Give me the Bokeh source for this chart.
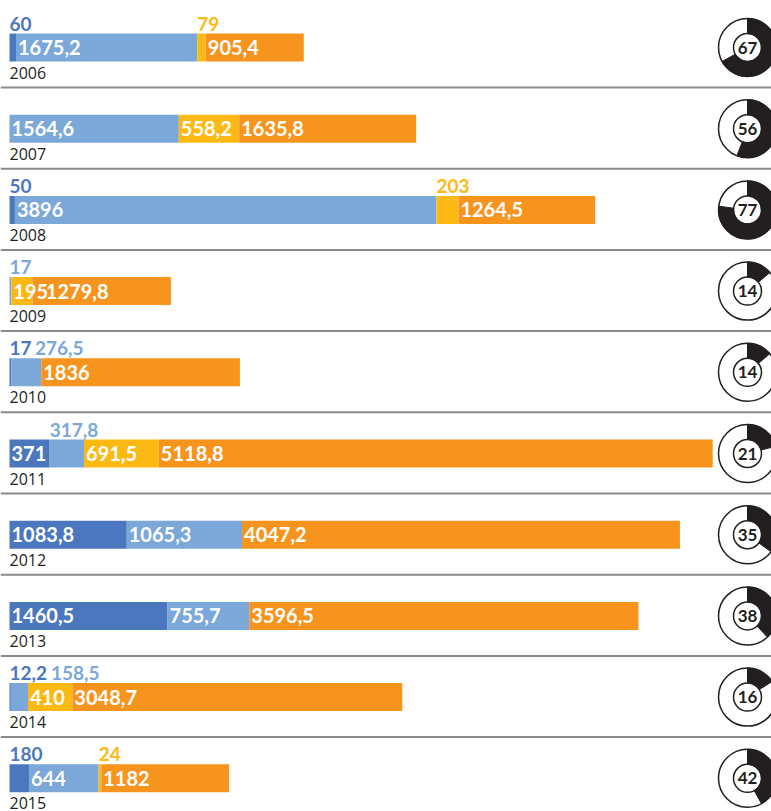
import math
from bokeh.plotting import figure
from bokeh.models import ColumnDataSource, Range1d, Span
from bokeh.core.properties import value
from bokeh.embed import file_html
from bokeh.resources import INLINE

# ---------------- data ----------------
years = [2006, 2007, 2008, 2009, 2010, 2011, 2012, 2013, 2014, 2015]
dark_blue = [60, 0, 50, 0, 17, 371, 1083.8, 1460.5, 12.2, 180]
light_blue = [1675.2, 1564.6, 3896, 17, 276.5, 317.8, 1065.3, 755.7, 158.5, 644]
yellow = [79, 558.2, 203, 195, 0, 691.5, 0, 0, 410, 24]
orange = [905.4, 1635.8, 1264.5, 1279.8, 1836, 5118.8, 4047.2, 3596.5, 3048.7, 1182]
share = [67, 56, 77, 14, 14, 21, 35, 38, 16, 42]

# label placement (1 = label above the bar)
dark_up = [1, 0, 1, 0, 1, 0, 0, 0, 1, 1]
light_up = [0, 0, 0, 1, 1, 1, 0, 0, 1, 0]
yellow_up = [1, 0, 1, 0, 0, 0, 0, 0, 0, 1]
orange_up = [0] * 10

# ---------------- style ----------------
COL_DARK = "#4b77be"
COL_LIGHT = "#7ba7d9"
COL_YEL = "#fdb913"
COL_ORA = "#f7941d"
TXT = "#231f20"
FONT = "Lato"
YFONT = "Open Sans"

W, H = 771, 811
X0 = 9              # px where bars begin
SCALE = 0.1082      # px per unit
ROW = 81.2          # px per year row
TOP = 47            # px of first row centre
BAR_H = 28 / ROW

x_start = -X0 / SCALE
x_end = (W - X0) / SCALE
y_top = years[0] - TOP / ROW
y_bot = years[0] + (H - TOP) / ROW

p = figure(width=W, height=H, output_backend="svg", toolbar_location=None,
           x_range=Range1d(x_start, x_end), y_range=Range1d(y_bot, y_top),
           x_axis_location=None, y_axis_location=None, min_border=0)
p.xgrid.visible = False
p.ygrid.visible = False
p.outline_line_color = None
p.background_fill_color = "white"
p.border_fill_color = "white"


def fmt(v):
    if float(v).is_integer():
        return str(int(v))
    return f"{v:.1f}".replace(".", ",")


def text_w(s):
    return sum(5 if c == "," else (9.5 if c == "1" else 11) for c in s)


series = [(dark_blue, COL_DARK, dark_up), (light_blue, COL_LIGHT, light_up),
          (yellow, COL_YEL, yellow_up), (orange, COL_ORA, orange_up)]

left = [0.0] * len(years)
in_lab = dict(x=[], y=[], t=[], xo=[])
up_lab = dict(x=[], y=[], t=[], xo=[], c=[])
up_end = [-100.0] * len(years)
in_end = [-100.0] * len(years)
for vals, col, up in series:
    right = [l + v for l, v in zip(left, vals)]
    p.hbar(y=years, left=left, right=right, height=BAR_H, fill_color=col, line_color=None)
    for i, v in enumerate(vals):
        if v <= 0:
            continue
        t = fmt(v)
        start_px = left[i] * SCALE
        if up[i]:
            xo = max(0.0, up_end[i] + 5 - start_px)
            up_lab["x"].append(left[i]); up_lab["y"].append(years[i] - 24 / ROW)
            up_lab["t"].append(t); up_lab["xo"].append(xo); up_lab["c"].append(col)
            up_end[i] = start_px + xo + text_w(t)
        else:
            xo = max(2.0, in_end[i] + 1 - start_px)
            in_lab["x"].append(left[i]); in_lab["y"].append(years[i])
            in_lab["t"].append(t); in_lab["xo"].append(xo)
            in_end[i] = start_px + xo + text_w(t)
    left = right

p.text(x="x", y="y", text="t", x_offset="xo", source=ColumnDataSource(in_lab),
       text_color="white", text_font=value(FONT), text_font_style="bold",
       text_font_size="20px", text_baseline="middle", text_align="left")
p.text(x="x", y="y", text="t", x_offset="xo", text_color="c", source=ColumnDataSource(up_lab),
       text_font=value(FONT), text_font_style="bold",
       text_font_size="19px", text_baseline="middle", text_align="left")

# year labels
p.text(x=[0] * len(years), y=[y + 25 / ROW for y in years], text=[str(y) for y in years],
       text_color=TXT, text_font=value(YFONT), text_font_size="16px",
       text_baseline="middle", text_align="left")

# separators
for y in years[:-1]:
    p.add_layout(Span(location=y + 40 / ROW, dimension="width",
                      line_color="#8a8a8a", line_width=2))

# donuts
cx = (747 - X0) / SCALE
dx = [cx] * len(years)
p.annulus(x=dx, y=years, inner_radius=14, outer_radius=29,
          inner_radius_units="screen", outer_radius_units="screen",
          fill_color="white", line_color="#231f20", line_width=1.5)
start = [math.pi / 2 - 2 * math.pi * s / 100 for s in share]
end = [math.pi / 2] * len(share)
p.annular_wedge(x=dx, y=years, inner_radius=14, outer_radius=29,
                inner_radius_units="screen", outer_radius_units="screen",
                start_angle=start, end_angle=end, direction="anticlock",
                fill_color="#231f20", line_color="#231f20", line_width=1)
p.text(x=dx, y=years, text=[str(s) for s in share], text_color=TXT,
       text_font=value(FONT), text_font_style="bold", text_font_size="17px",
       text_baseline="middle", text_align="center")

open("out.html", "w").write(file_html(p, INLINE))
